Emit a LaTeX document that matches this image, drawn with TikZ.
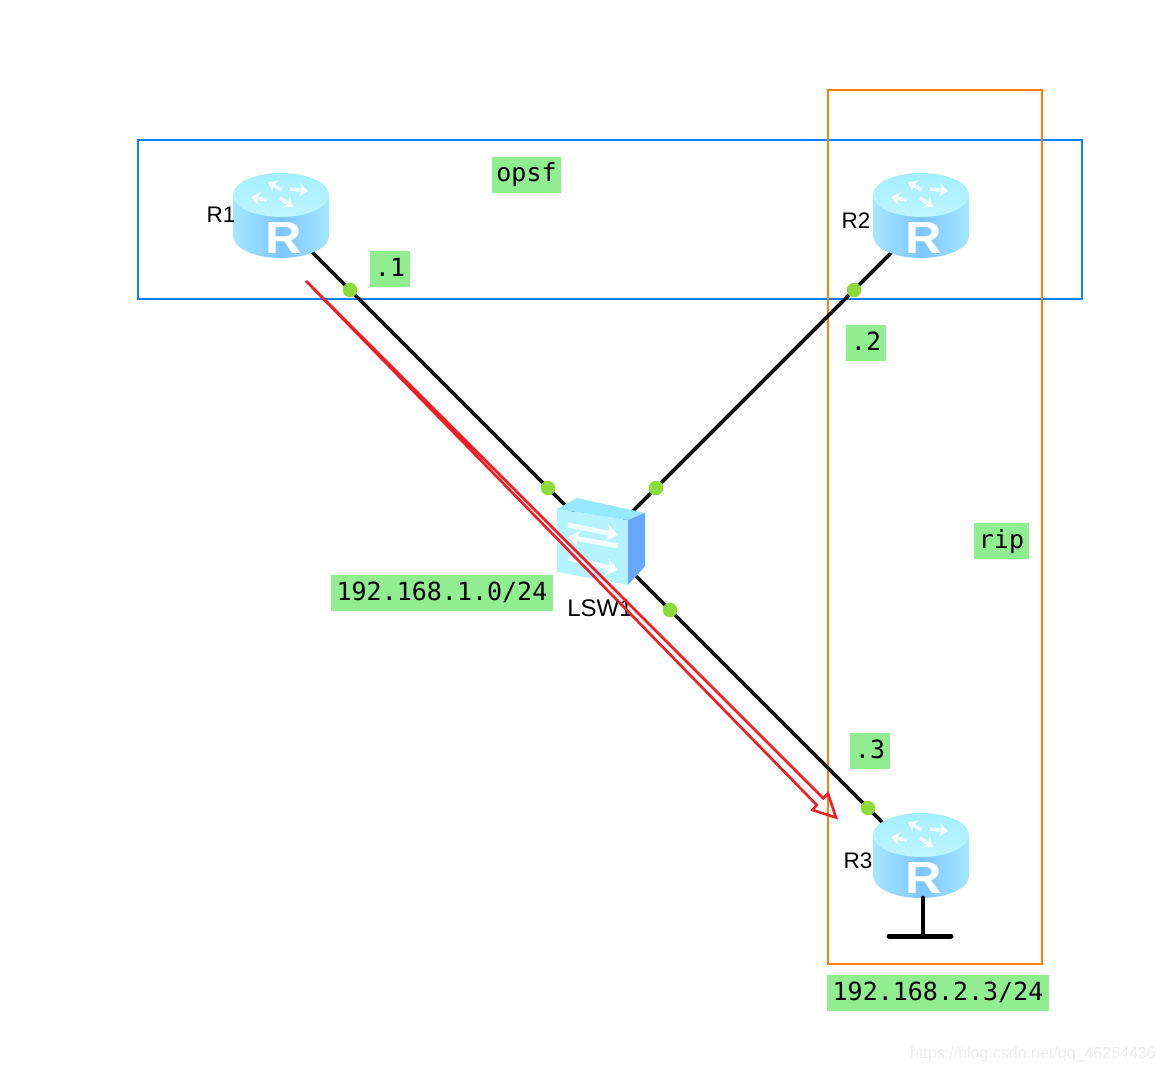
\documentclass[tikz,border=0pt]{standalone}
\usepackage{fontspec}
\setmainfont{Liberation Sans}
\newfontfamily\tagfont{DejaVu Sans Mono}
\usetikzlibrary{arrows.meta}
\definecolor{tagfill}{HTML}{90EE90}
\definecolor{portdot}{HTML}{8CDB3A}
\definecolor{ospfblue}{HTML}{0A7FFF}
\definecolor{riporange}{HTML}{FF8000}
\definecolor{flowred}{HTML}{F01C24}
\definecolor{bodyedge}{HTML}{A6E6FF}
\definecolor{bodymid}{HTML}{7CC6FF}
\definecolor{roofa}{HTML}{A4EEFF}
\definecolor{roofb}{HTML}{BEF5FF}
\definecolor{switchside}{HTML}{66A8FF}
\definecolor{switchtop}{HTML}{96E8FF}
\definecolor{switchfront}{HTML}{B4F2FF}
\tikzset{
  hub/.style={inner sep=0pt,minimum size=0pt,outer sep=0pt},
  linkline/.style={draw=black!92,line width=3.8pt},
  portmark/.style={circle,fill=portdot,inner sep=0pt,minimum size=14.5pt},
  tag/.style={fill=tagfill,inner sep=0pt,minimum height=36pt,text height=20pt,text depth=6pt,
    font=\tagfont\fontsize{25}{27}\selectfont},
  devname/.style={inner sep=0pt,font=\fontsize{22.5}{24}\selectfont},
  routerglyph/.style={draw=white,opacity=.7,line width=3.6pt,-{Stealth[length=9pt,width=14pt]}},
  switchglyph/.style={draw=white,opacity=.8,line width=5pt,-{Stealth[length=12pt,width=18pt]}},
  routerpic/.pic={
    \path[left color=bodyedge,right color=bodyedge,middle color=bodymid]
      (-48,-20) -- (-48,21) arc[start angle=180,end angle=360,x radius=48pt,y radius=22pt]
      -- (48,-20) -- cycle;
    \path[top color=roofa,bottom color=roofb] (0,-20) ellipse[x radius=48pt,y radius=22pt];
    \draw[routerglyph] (1,-25) -- (-13,-33);
    \draw[routerglyph] (-1,-17) -- (12,-8);
    \draw[routerglyph] (-14,-15) -- (-30,-18);
    \draw[routerglyph] (9,-26) -- (27,-24);
    \node[text=white,inner sep=0pt,font=\bfseries\fontsize{45}{45}\selectfont,xscale=1.12] (-letter) at (3,23) {R};
  }
}
\begin{document}
\begin{tikzpicture}[x=1pt,y=-1pt]
\useasboundingbox[fill=white] (0,0) rectangle (1164,1072);

% attachment points of the three routers and the switch
\node[hub] (r1) at (281,221) {};
\node[hub] (r2) at (921,223) {};
\node[hub] (r3) at (921,861) {};
\node[hub] (sw) at (600,540) {};
\node[hub] (swb) at (604,540) {};
\coordinate (stub) at (923,936);
\coordinate (barleft) at (889,936);
\coordinate (barright) at (951,936);

% routing domains
\node[hub,draw=ospfblue,line width=2pt,minimum width=944pt,minimum height=159pt] (ospfbox) at (610,219.5) {};
\node[hub,draw=riporange,line width=2pt,minimum width=214pt,minimum height=874pt] (ripbox) at (935,527) {};

% links
\draw[linkline] (r1.center) -- (sw.center);
\draw[linkline] (r2.center) -- (swb.center);
\draw[linkline] (r3.center) -- (sw.center);
\draw[black,line width=5pt,line cap=round] (barleft) -- (barright);

% devices
\pic at (281,215) {routerpic};
\pic at (921,215) {routerpic};
\pic at (921,855) {routerpic};
\draw[black,line width=4.6pt,line cap=round] (923,898) -- (stub);

% switch
\path[fill=switchfront] (557,509) -- (628,520) -- (628,585) -- (557,572) -- cycle;
\path[fill=switchtop] (557,509) -- (577,498) -- (645,513) -- (628,520) -- cycle;
\path[fill=switchside] (628,520) -- (645,513) -- (645,566) -- (628,585) -- cycle;
\draw[switchglyph] (568,525) -- (618,535);
\draw[switchglyph] (618,546) -- (568,537);
\draw[switchglyph] (568,558) -- (618,570);

% port markers
\node[portmark] (p1) at (350,290) {};
\node[portmark] (p2) at (854,290) {};
\node[portmark] (p3) at (868,808) {};
\node[portmark] (s1) at (548,488) {};
\node[portmark] (s2) at (656,488) {};
\node[portmark] (s3) at (670,610) {};

% device names
\node[devname] (n1) at (221,215) {R1};
\node[devname] (n2) at (856,221) {R2};
\node[devname] (n3) at (858,861) {R3};
\node[devname,font=\fontsize{24}{26}\selectfont] (n4) at (600,608) {LSW1};

% address and protocol tags
\node[tag,minimum width=69pt] (topsf) at (526.5,175) {\raisebox{1pt}{opsf}};
\node[tag,minimum width=40pt] (t1) at (390,269) {.1};
\node[tag,minimum width=40pt] (t2) at (866,343) {.2};
\node[tag,minimum width=40pt] (t3) at (870,751) {.3};
\node[tag,minimum width=55pt] (trip) at (1001.5,541) {rip};
\node[tag,minimum width=222pt] (tlan) at (442,593) {192.168.1.0/24};
\node[tag,minimum width=222pt] (tloop) at (938,993) {192.168.2.3/24};

% traffic path, hollow arrow
\draw[flowred,line width=2.6pt,line join=miter,miter limit=4]
  (306,281) -- (823.3,798.3) -- (828,793.5) -- (836,817.5) -- (812.5,810) -- (816.7,805) -- cycle;

% image credit
\node[inner sep=0pt,text=black!7,font=\fontsize{16}{18}\selectfont] (credit) at (1033,1054) {https://blog.csdn.net/qq\_46254436};
\end{tikzpicture}
\end{document}
